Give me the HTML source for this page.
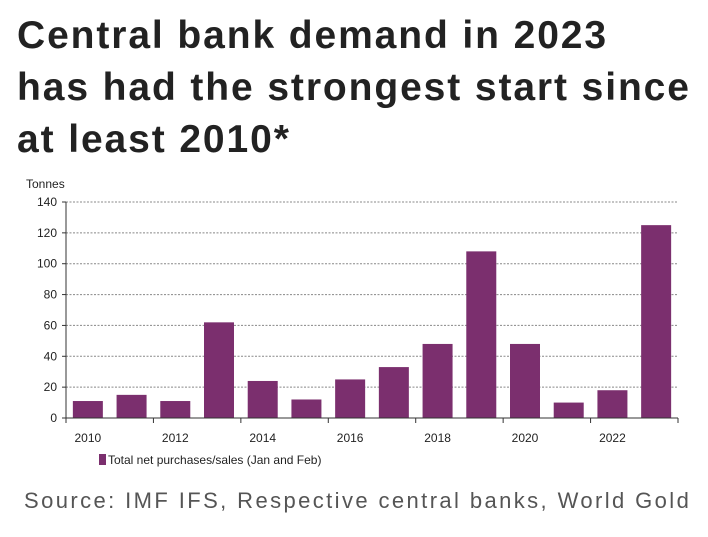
<!DOCTYPE html>
<html><head><meta charset="utf-8"><style>
body{margin:0;width:708px;height:537px;background:#fff;overflow:hidden;font-family:"Liberation Sans",sans-serif}
#title{position:absolute;left:17px;top:10px;font-size:39px;font-weight:bold;line-height:52px;color:#222;letter-spacing:1.9px;white-space:nowrap}
#source{position:absolute;left:24px;top:488px;font-size:22px;color:#555;letter-spacing:2.4px;white-space:nowrap}
svg{position:absolute;left:0;top:0}
</style></head><body>
<div id="title">Central bank demand in 2023<br>has had the strongest start since<br>at least 2010*</div>
<svg id="chart" width="708" height="537"></svg>
<div id="source">Source: IMF IFS, Respective central banks, World Gold</div>
<script>
const years=[2010,2011,2012,2013,2014,2015,2016,2017,2018,2019,2020,2021,2022,2023];
const values=[11,15,11,62,24,12,25,33,48,108,48,10,18,125];
const yTicks=[0,20,40,60,80,100,120,140];
const ns="http://www.w3.org/2000/svg",svg=document.getElementById('chart');
const L=66,R=678,T=202,B=418,yMax=140;
const y=v=>B-(v/yMax)*(B-T);
const slot=(R-L)/years.length;
const x=i=>L+slot*i;
function mk(t,a,txt){const e=document.createElementNS(ns,t);for(const k in a)e.setAttribute(k,a[k]);if(txt!==undefined)e.textContent=txt;svg.appendChild(e);return e;}
yTicks.forEach(v=>{
 if(v>0){const g=mk('line',{x1:L,x2:R,y1:y(v),y2:y(v),stroke:'#888','stroke-dasharray':'2,1.5','stroke-width':1});
 
 }
 mk('line',{x1:L-4,x2:L,y1:y(v),y2:y(v),stroke:'#333'});
 const t=mk('text',{x:L-9,y:y(v)+4,'text-anchor':'end','font-size':12,fill:'#222'},v);
 
 
});
values.forEach((v,i)=>{
 const r=mk('rect',{x:x(i)+slot/2-15,y:y(v),width:30,height:B-y(v),fill:'#7b2f6e'});
 
 
});
mk('line',{x1:L,x2:L,y1:T,y2:B,stroke:'#333'});
mk('line',{x1:L,x2:R,y1:B,y2:B,stroke:'#333'});
for(let i=0;i<=years.length;i+=2)mk('line',{x1:x(i),x2:x(i),y1:B,y2:B+5,stroke:'#333'});
years.forEach((yr,i)=>{if(i%2===0){
 const t=mk('text',{x:x(i)+slot/2,y:B+24,'text-anchor':'middle','font-size':12,fill:'#222'},yr);
 
 }});
const yt=mk('text',{x:26,y:188,'font-size':12,fill:'#222'},'Tonnes');


const lg=mk('rect',{x:99,y:454,width:7,height:11,fill:'#7b2f6e'});


const lt=mk('text',{x:108,y:464,'font-size':12,fill:'#222'},'Total net purchases/sales (Jan and Feb)');


</script>
</body></html>
